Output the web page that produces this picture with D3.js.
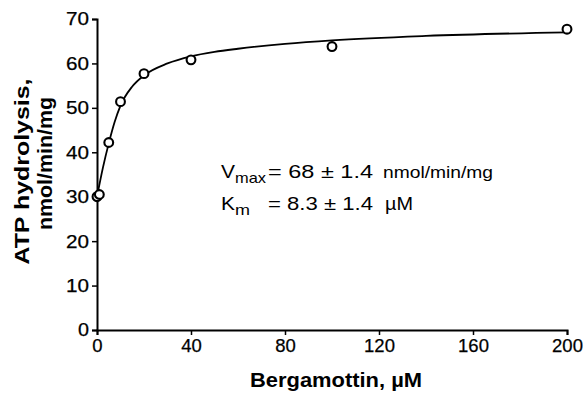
<!DOCTYPE html>
<html>
<head>
<meta charset="utf-8">
<script src="https://cdn.jsdelivr.net/npm/d3@7"></script>
<style>
  body { margin: 0; background: #fff; }
  svg { display: block; font-family: "Liberation Sans", Arial, Helvetica, sans-serif; }
</style>
</head>
<body>
<svg width="585" height="394"></svg>
<script>
// measured points (uM bergamottin vs ATP hydrolysis)
var conc = [0, 1, 5, 10, 20, 40, 100, 200];
var rate = [30, 30.5, 42.2, 51.4, 57.7, 60.8, 63.8, 67.7];

// fitted curve as it reads off the figure
var fitX = [0, 2.5, 5, 7.5, 10, 15, 20, 30, 40, 50, 60, 80, 100, 140, 200];
var fitY = [30, 36.5, 42, 46.8, 50.5, 54.8, 57.3, 60, 61.6, 62.6, 63.3, 64.4, 65.2, 66.2, 67];

var xTicks = [0, 40, 80, 120, 160, 200];
var yTicks = [0, 10, 20, 30, 40, 50, 60, 70];

var svg = d3.select("svg"),
    margin = {top: 19, right: 18, bottom: 64, left: 97},
    width = +svg.attr("width") - margin.left - margin.right,
    height = +svg.attr("height") - margin.top - margin.bottom,
    g = svg.append("g").attr("transform", "translate(" + margin.left + "," + margin.top + ")");

var x = d3.scaleLinear().domain([0, 200]).range([0, width]);
var y = d3.scaleLinear().domain([0, 70]).range([height, 0]);

g.append("g")
    .attr("class", "x-axis")
    .attr("transform", "translate(0," + height + ")")
    .call(d3.axisBottom(x).tickValues(xTicks).tickSize(5).tickPadding(4));

g.append("g")
    .attr("class", "y-axis")
    .call(d3.axisLeft(y).tickValues(yTicks).tickSize(5).tickPadding(3));

g.selectAll(".domain").attr("stroke-width", 2);
g.selectAll(".tick line").attr("stroke-width", 1.5);
g.selectAll(".tick text")
    .attr("font-size", 18.5)
    .attr("fill", "#000")
    .attr("stroke", "#000")
    .attr("stroke-width", 0.25)
    .style("font-family", "'Liberation Sans', Arial, sans-serif");
g.selectAll(".y-axis .tick text")
    .attr("textLength", 23)
    .attr("lengthAdjust", "spacingAndGlyphs")
    .filter(function(d) { return d === 0; })
    .attr("textLength", 11);

var line = d3.line()
    .x(function(d, i) { return x(fitX[i]); })
    .y(function(d) { return y(d); })
    .curve(d3.curveMonotoneX);

g.append("path")
    .datum(fitY)
    .attr("fill", "none")
    .attr("stroke", "#000")
    .attr("stroke-width", 1.8)
    .attr("d", line);

g.selectAll(".dot")
    .data(rate)
  .enter().append("circle")
    .attr("class", "dot")
    .attr("cx", function(d, i) { return x(conc[i]); })
    .attr("cy", function(d) { return y(d); })
    .attr("r", 4.4)
    .attr("fill", "#fff")
    .attr("stroke", "#000")
    .attr("stroke-width", 2.1);

// axis titles
svg.append("text")
    .attr("x", 336)
    .attr("y", 387)
    .attr("text-anchor", "middle")
    .attr("font-size", 20)
    .attr("font-weight", "bold")
    .attr("textLength", 172)
    .attr("lengthAdjust", "spacingAndGlyphs")
    .text("Bergamottin, \u00b5M");

var yl = svg.append("text")
    .attr("transform", "translate(0," + (margin.top + height / 2) + ") rotate(-90)")
    .attr("text-anchor", "middle")
    .attr("font-size", 20)
    .attr("font-weight", "bold");
yl.append("tspan").attr("x", 3).attr("y", 29)
    .attr("textLength", 186).attr("lengthAdjust", "spacingAndGlyphs")
    .text("ATP hydrolysis,");
yl.append("tspan").attr("x", 11).attr("y", 52)
    .attr("textLength", 133).attr("lengthAdjust", "spacingAndGlyphs")
    .text("nmol/min/mg");

// kinetic constants
var ann = svg.append("g").attr("font-size", 19);
function piece(x0, y0, str, len, size) {
  return ann.append("text")
      .attr("x", x0).attr("y", y0)
      .attr("font-size", size || 19)
      .attr("textLength", len)
      .attr("lengthAdjust", "spacingAndGlyphs")
      .text(str);
}
piece(221, 178, "V", 14);
piece(235, 183, "max", 31, 15);
piece(268, 178, "= 68 \u00b1 1.4", 105);
piece(383, 178, "nmol/min/mg", 110, 16);

piece(221, 210, "K", 14);
piece(235, 215, "m", 15, 15);
piece(268, 210, "= 8.3 \u00b1 1.4", 105);
piece(385, 210, "\u00b5M", 28);
</script>
</body>
</html>
